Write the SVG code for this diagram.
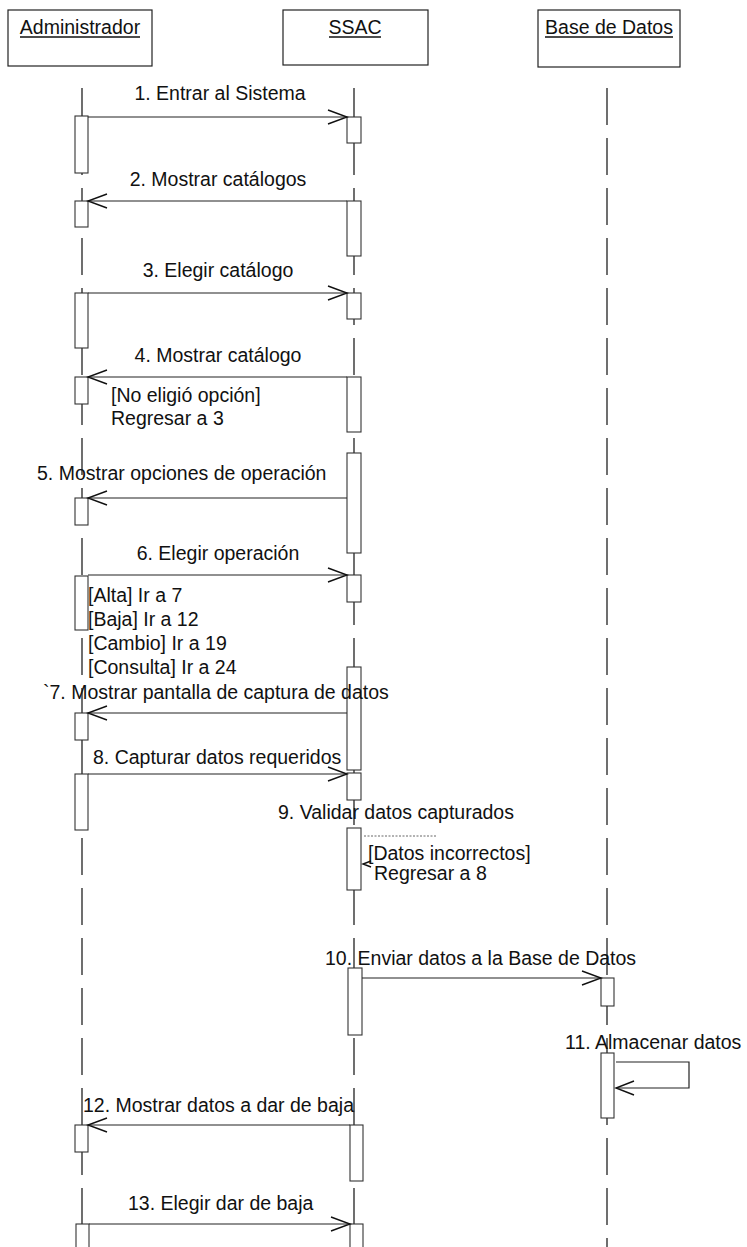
<svg xmlns="http://www.w3.org/2000/svg" width="747" height="1247" viewBox="0 0 747 1247">
<style>
  text { font-family: "Liberation Sans", Arial, sans-serif; font-size: 19.5px; fill: #111; }
  .head { fill: #fff; stroke: #222; stroke-width: 1.2; }
  .ul { stroke: #111; stroke-width: 1.3; }
  .life { stroke: #222; stroke-width: 1.3; stroke-dasharray: 37 13; fill: none; }
  .act { fill: #fff; stroke: #333; stroke-width: 1.1; }
  .msg { stroke: #222; stroke-width: 1.2; fill: none; }
  .ah { stroke: #111; stroke-width: 1.4; fill: none; }
  .dot { stroke: #666; stroke-width: 1; stroke-dasharray: 2 1.5; fill: none; }
</style>
<rect width="747" height="1247" fill="#fff"/>

<g id="lifelines">
  <line class="life" x1="82" y1="88" x2="82" y2="1247"/>
  <line class="life" x1="354" y1="88" x2="354" y2="1247"/>
  <line class="life" x1="607" y1="88" x2="607" y2="1247"/>
</g>

<g id="node-administrador">
  <rect class="head" x="8" y="10" width="144" height="56"/>
  <text x="80" y="34" text-anchor="middle">Administrador</text>
  <line class="ul" x1="20" y1="37" x2="140" y2="37"/>
  <rect class="act" x="75" y="116" width="13" height="57"/>
  <rect class="act" x="75" y="201" width="13" height="26"/>
  <rect class="act" x="75" y="293" width="13" height="55"/>
  <rect class="act" x="75" y="377" width="13" height="27"/>
  <rect class="act" x="75" y="498" width="13" height="27"/>
  <rect class="act" x="75" y="576" width="13" height="54"/>
  <rect class="act" x="75" y="713" width="13" height="27"/>
  <rect class="act" x="75" y="774" width="13" height="56"/>
  <rect class="act" x="75" y="1125" width="13" height="27"/>
  <rect class="act" x="76" y="1224" width="13" height="30"/>
</g>

<g id="node-ssac">
  <rect class="head" x="283" y="10" width="145" height="55"/>
  <text x="355" y="34" text-anchor="middle">SSAC</text>
  <line class="ul" x1="329" y1="37" x2="381" y2="37"/>
  <rect class="act" x="347" y="117" width="14" height="26"/>
  <rect class="act" x="347" y="201" width="14" height="55"/>
  <rect class="act" x="347" y="293" width="14" height="26"/>
  <rect class="act" x="347" y="377" width="14" height="55"/>
  <rect class="act" x="347" y="453" width="14" height="100"/>
  <rect class="act" x="347" y="575" width="14" height="27"/>
  <rect class="act" x="347" y="667" width="14" height="103"/>
  <rect class="act" x="347" y="773" width="14" height="27"/>
  <rect class="act" x="347" y="828" width="14" height="62"/>
  <rect class="act" x="348" y="968" width="14" height="67"/>
  <rect class="act" x="350" y="1125" width="13" height="56"/>
  <rect class="act" x="350" y="1224" width="13" height="30"/>
</g>

<g id="node-basedatos">
  <rect class="head" x="538" y="10" width="142" height="57"/>
  <text x="609" y="34" text-anchor="middle">Base de Datos</text>
  <line class="ul" x1="545" y1="37" x2="673" y2="37"/>
  <rect class="act" x="601" y="978" width="13" height="28"/>
  <rect class="act" x="601" y="1053" width="13" height="65"/>
</g>

<g id="connectors">
  <!-- 1 -->
  <line class="msg" x1="88" y1="117" x2="347" y2="117"/>
  <polyline class="ah" points="328,110 347,117 328,124"/>
  <!-- 2 -->
  <line class="msg" x1="347" y1="201" x2="88" y2="201"/>
  <polyline class="ah" points="107,194 88,201 107,208"/>
  <!-- 3 -->
  <line class="msg" x1="88" y1="293" x2="347" y2="293"/>
  <polyline class="ah" points="328,286 347,293 328,300"/>
  <!-- 4 -->
  <line class="msg" x1="347" y1="377" x2="88" y2="377"/>
  <polyline class="ah" points="107,370 88,377 107,384"/>
  <!-- 5 -->
  <line class="msg" x1="347" y1="498" x2="88" y2="498"/>
  <polyline class="ah" points="107,491 88,498 107,505"/>
  <!-- 6 -->
  <line class="msg" x1="88" y1="575" x2="347" y2="575"/>
  <polyline class="ah" points="328,568 347,575 328,582"/>
  <!-- 7 -->
  <line class="msg" x1="347" y1="713" x2="88" y2="713"/>
  <polyline class="ah" points="107,706 88,713 107,720"/>
  <!-- 8 -->
  <line class="msg" x1="88" y1="774" x2="347" y2="774"/>
  <polyline class="ah" points="328,767 347,774 328,781"/>
  <!-- 9 self -->
  <line class="dot" x1="364" y1="836" x2="437" y2="836"/>
  <polyline class="ah" points="371,861 363,864 371,867"/>
  <!-- 10 -->
  <line class="msg" x1="362" y1="978" x2="601" y2="978"/>
  <polyline class="ah" points="582,971 601,978 582,985"/>
  <!-- 11 self -->
  <polyline class="msg" points="616,1062 689,1062 689,1088 616,1088"/>
  <polyline class="ah" points="634,1081 616,1088 634,1095"/>
  <!-- 12 -->
  <line class="msg" x1="350" y1="1125" x2="88" y2="1125"/>
  <polyline class="ah" points="107,1118 88,1125 107,1132"/>
  <!-- 13 -->
  <line class="msg" x1="89" y1="1224" x2="350" y2="1224"/>
  <polyline class="ah" points="331,1217 350,1224 331,1231"/>
</g>

<g id="labels">
  <text x="220" y="100" text-anchor="middle">1. Entrar al Sistema</text>
  <text x="218" y="186" text-anchor="middle">2. Mostrar catálogos</text>
  <text x="218" y="277" text-anchor="middle">3. Elegir catálogo</text>
  <text x="218" y="362" text-anchor="middle">4. Mostrar catálogo</text>
  <text x="111" y="402">[No eligió opción]</text>
  <text x="111" y="425">Regresar a 3</text>
  <text x="37" y="480">5. Mostrar opciones de operación</text>
  <text x="218" y="560" text-anchor="middle">6. Elegir operación</text>
  <text x="88" y="602">[Alta] Ir a 7</text>
  <text x="88" y="626">[Baja] Ir a 12</text>
  <text x="88" y="650">[Cambio] Ir a 19</text>
  <text x="88" y="674">[Consulta] Ir a 24</text>
  <text x="43" y="699">`7. Mostrar pantalla de captura de datos</text>
  <text x="93" y="764">8. Capturar datos requeridos</text>
  <text x="278" y="819">9. Validar datos capturados</text>
  <text x="368" y="860">[Datos incorrectos]</text>
  <text x="374" y="880">Regresar a 8</text>
  <text x="325" y="965">10. Enviar datos a la Base de Datos</text>
  <text x="565" y="1049">11. Almacenar datos</text>
  <text x="83" y="1112">12. Mostrar datos a dar de baja</text>
  <text x="128" y="1210">13. Elegir dar de baja</text>
</g>
</svg>
